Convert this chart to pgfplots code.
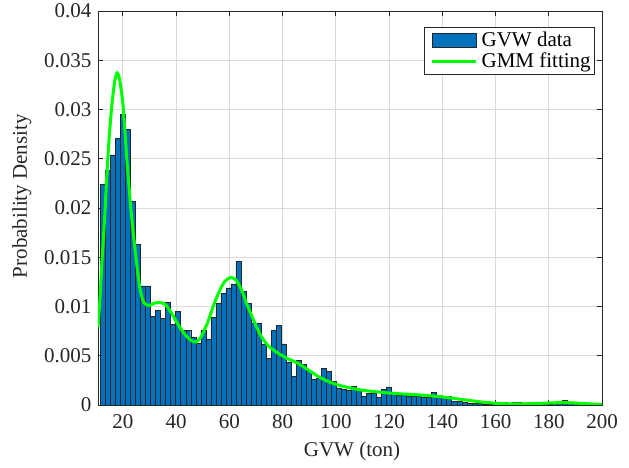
\documentclass[border=0pt]{standalone}
\usepackage{fontspec}
\setmainfont{Liberation Serif}
\usepackage{pgfplots}
\pgfplotsset{compat=1.18}
\usepackage{pgfplotstable}
\definecolor{matblue}{rgb}{0,0.447,0.741}
\definecolor{axgray}{rgb}{0.15,0.15,0.15}
\definecolor{fitgreen}{rgb}{0,1,0}
\pgfplotsset{
  histlegend/.style={legend image code/.code={\path (0pt,0pt) (50pt,0pt);\draw[fill=matblue, draw=black!85, line width=0.5pt] (4pt,-7pt) rectangle (48pt,7pt);}},
  linelegend/.style={legend image code/.code={\path (0pt,0pt) (50pt,0pt);\draw[##1] (4pt,0pt) -- (48pt,0pt);}},
}

\pgfplotstableread{
x y
11.60 0.0224
13.49 0.0238
15.37 0.0254
17.26 0.0271
19.14 0.0295
21.03 0.0280
22.91 0.0207
24.80 0.0163
26.68 0.0121
28.57 0.0121
30.45 0.0090
32.34 0.0096
34.22 0.0088
36.11 0.0104
37.99 0.0082
39.88 0.0095
41.76 0.0076
43.65 0.0076
45.53 0.0069
47.42 0.00625
49.30 0.0076
51.19 0.0067
53.07 0.0089
54.96 0.0103
56.84 0.01135
58.73 0.0119
60.61 0.0123
62.50 0.0146
64.38 0.0115
66.27 0.0103
68.15 0.00835
70.04 0.0083
71.92 0.0062
73.81 0.0047
75.69 0.0076
77.58 0.00805
79.46 0.0062
81.35 0.00435
83.23 0.0029
85.12 0.0045
87.00 0.0041
88.89 0.00345
90.77 0.0026
92.66 0.0027
94.54 0.0037
96.43 0.00345
98.31 0.0024
100.20 0.00175
102.08 0.0016
103.97 0.0015
105.85 0.0019
107.74 0.0015
109.62 0.00085
111.51 0.00115
113.39 0.00115
115.28 0.00075
117.16 0.0016
119.05 0.00185
120.93 0.00125
122.82 0.0010
124.70 0.00095
126.59 0.0009
128.47 0.0009
130.36 0.00085
132.24 0.0008
134.13 0.0008
136.01 0.0013
137.90 0.0010
139.78 0.00085
141.67 0.00085
143.55 0.0004
145.44 0.00035
147.32 0.00025
149.21 0.0002
151.09 0.00015
152.98 0.00015
154.86 0.0001
156.75 0.00012
158.63 0.0002
160.52 0.0002
162.40 0.0003
164.29 0.00015
166.17 0.00025
168.06 0.0003
169.94 0.00015
171.83 0.0001
173.71 0.0003
175.60 0.0003
177.48 0.00025
179.37 0.0001
181.25 0.00015
183.14 0.0002
185.02 0.00045
186.91 0.0003
188.79 0.0003
190.68 0.0003
192.56 0.00015
194.45 0.0001
196.33 0.0001
198.22 0.00008
200.10 0
}\histdata

\pgfplotstableread{
x y
10.7 0.0079
11.5 0.0110
12.2 0.0146
13.2 0.0190
14.1 0.0237
15.0 0.0275
16.0 0.0307
17.0 0.0329
17.9 0.0337
18.8 0.0331
20.1 0.0304
21.6 0.0247
23.1 0.0197
24.8 0.0153
26.4 0.0119
27.9 0.0104
29.8 0.0101
32.0 0.01035
34.0 0.0104
36.0 0.0102
38.2 0.0094
40.7 0.0082
43.2 0.0072
45.7 0.00655
47.5 0.0064
49.4 0.0069
51.9 0.0084
54.5 0.0104
56.9 0.0119
58.5 0.0126
60.5 0.01295
62.5 0.0127
64.6 0.0117
66.5 0.0103
69.0 0.0087
71.5 0.0072
74.0 0.0062
76.5 0.0056
79.0 0.00515
82.0 0.0047
86.0 0.0042
90.0 0.0035
94.0 0.0028
98.0 0.0023
102 0.00195
106 0.0017
110 0.0015
115 0.00135
120 0.00122
125 0.00112
130 0.00105
135 0.00095
140 0.00082
145 0.00065
150 0.00047
155 0.0003
160 0.00018
165 0.00012
170 0.00012
175 0.00015
180 0.0002
185 0.00025
190 0.0002
195 0.00012
200 0.00006
}\gmmdata

\begin{document}
\begin{tikzpicture}
\path[use as bounding box] (-98pt,-63pt) rectangle (531pt,405pt);
\begin{axis}[
  scale only axis,
  width=504pt, height=394pt,
  xmin=10.7, xmax=200, ymin=0, ymax=0.04,
  xtick={20,40,...,200},
  ytick={0,0.005,0.01,0.015,0.02,0.025,0.03,0.035,0.04},
  yticklabels={0,0.005,0.01,0.015,0.02,0.025,0.03,0.035,0.04},
  scaled y ticks=false,
  tick align=inside, tick pos=both,
  major tick length=5pt,
  grid=major,
  grid style={gray!28, line width=0.6pt},
  axis line style={axgray, line width=0.6pt},
  every tick/.style={axgray, line width=0.6pt},
  /pgf/number format/assume math mode=true,
  tick label style={font=\fontsize{21}{24}\selectfont, text=axgray},
  xticklabel style={yshift=-6pt},
  yticklabel style={xshift=-3pt},
  xlabel={GVW (ton)},
  ylabel={Probability Density},
  label style={font=\fontsize{21}{24}\selectfont, text=axgray},
  xlabel style={at={(axis description cs:0.504,-0.118)}, anchor=center},
  ylabel style={at={(axis description cs:-0.151,0.53)}, anchor=center},
  legend style={at={(rel axis cs:0.986,0.96)}, anchor=north east,
    font=\fontsize{21}{23}\selectfont, draw=axgray, line width=0.5pt,
    inner xsep=2pt, inner ysep=3pt, row sep=1pt, cells={anchor=west}},
  legend cell align=left,
]
\addplot[ybar interval, fill=matblue, draw=black!85, line width=0.45pt, histlegend]
  table[x=x, y=y] {\histdata};
\addlegendentry{GVW data}
\addplot[color=fitgreen, line width=3pt, smooth, tension=0.4, linelegend]
  table[x=x, y=y] {\gmmdata};
\addlegendentry{GMM fitting}
\end{axis}
\end{tikzpicture}
\end{document}
